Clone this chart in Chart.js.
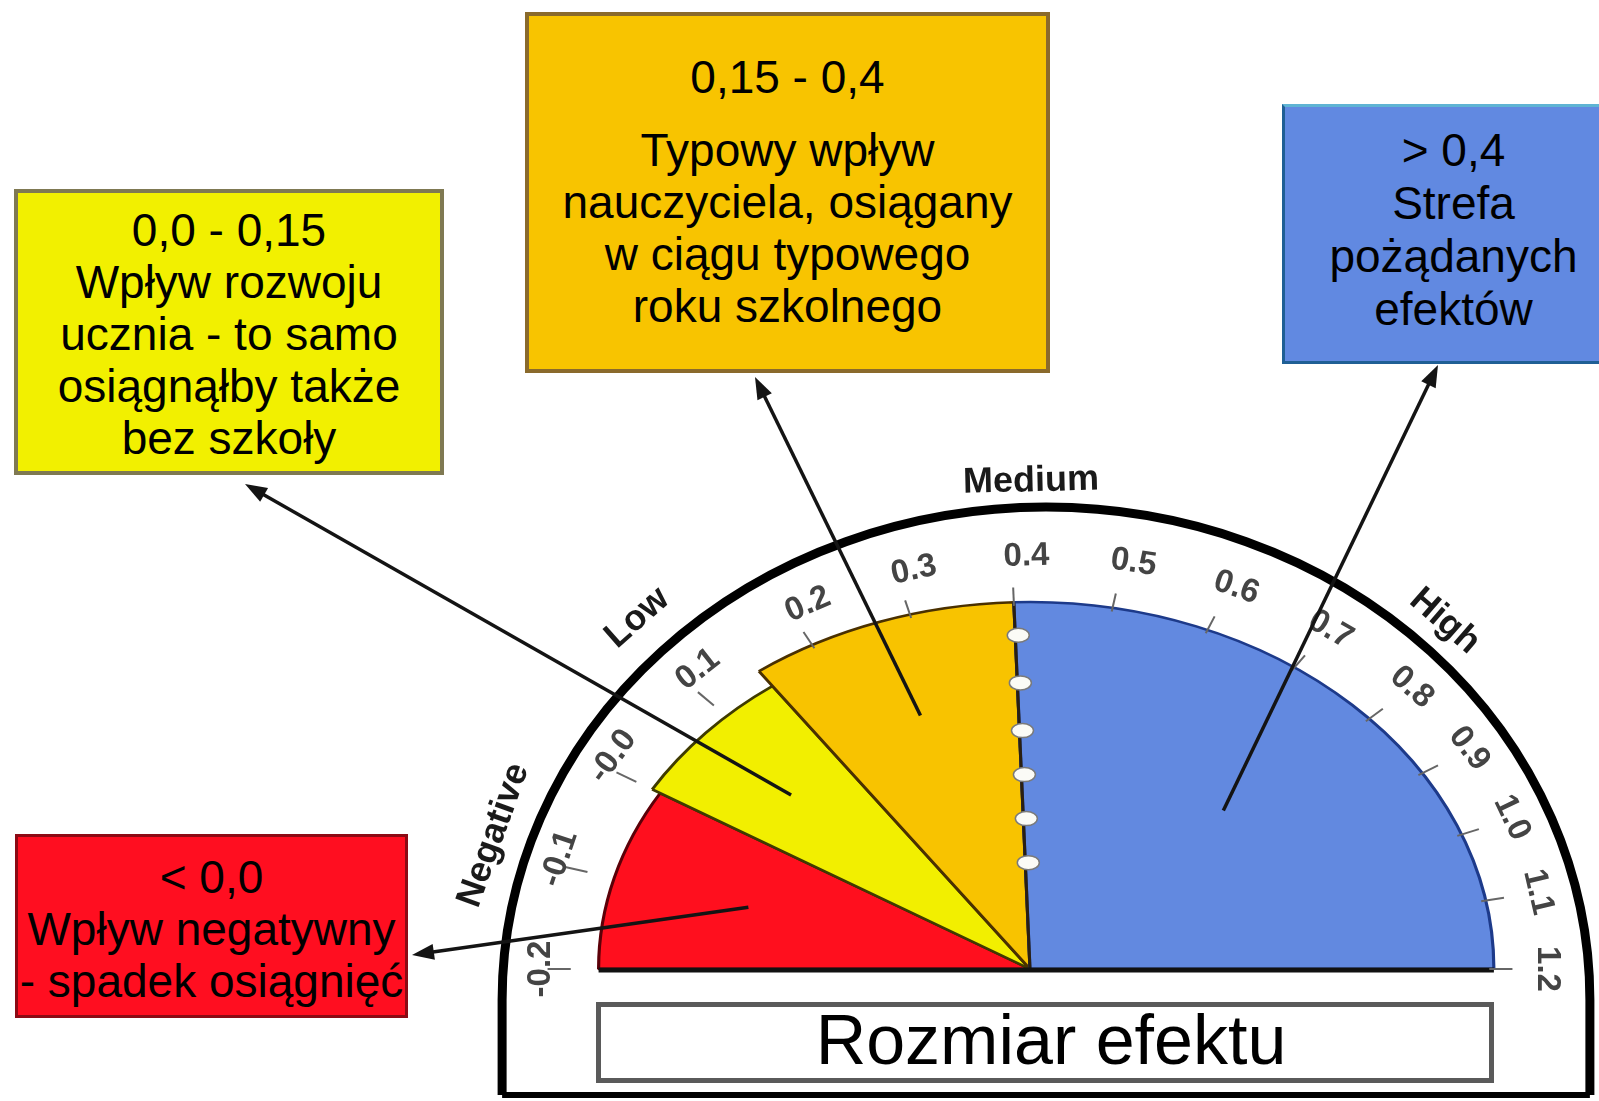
<!DOCTYPE html>
<html lang="pl">
<head>
<meta charset="utf-8">
<title>Rozmiar efektu</title>
<script src="https://cdn.jsdelivr.net/npm/chart.js@4.4.1/dist/chart.umd.min.js"></script>
<style>
  html, body { margin: 0; padding: 0; background: #fff; }
  body { width: 1599px; height: 1101px; overflow: hidden; position: relative;
         font-family: "Liberation Sans", Arial, sans-serif; }
  #gauge { position: absolute; left: 0; top: 0; display: block; }
  .box { position: absolute; box-sizing: border-box; text-align: center; color: #000;
         font-size: 46px; line-height: 52px; white-space: nowrap; z-index: 2; }
  #boxLow  { left: 14px; top: 189px; width: 430px; height: 286px; padding-top: 11px;
             background: #f2f000; border: 4px solid #7f7952; }
  #boxTyp  { left: 525px; top: 12px; width: 525px; height: 361px; padding-top: 35px;
             background: #f8c400; border: 4px solid #8a6a2c; }
  #boxTyp .first { margin-bottom: 21px; }
  #boxHigh { left: 1282px; top: 104px; width: 343px; height: 260px; padding-top: 17px;
             line-height: 53px; background: #6189e1; border: 3px solid #1f5f95;
             border-top-color: #5fb4d4; }
  #boxNeg  { left: 15px; top: 834px; width: 393px; height: 184px; padding-top: 14px;
             background: #ff0e20; border: 3px solid #8c0a14; }
  #axisBox { left: 596px; top: 1002px; width: 898px; height: 81px; padding-left: 12px;
             font-size: 70px; line-height: 66px; background: #fff; border: 5px solid #5a5a5a; }
</style>
</head>
<body>
<canvas id="gauge" width="1599" height="1938"></canvas>

<div class="box" id="boxLow">0,0 - 0,15<br>Wpływ rozwoju<br>ucznia - to samo<br>osiągnąłby także<br>bez szkoły</div>
<div class="box" id="boxTyp"><div class="first">0,15 - 0,4</div>Typowy wpływ<br>nauczyciela, osiągany<br>w ciągu typowego<br>roku szkolnego</div>
<div class="box" id="boxHigh">&gt; 0,4<br>Strefa<br>pożądanych<br>efektów</div>
<div class="box" id="boxNeg">&lt; 0,0<br>Wpływ negatywny<br>- spadek osiągnięć</div>
<div class="box" id="axisBox">Rozmiar efektu</div>

<script>
// zones of the barometer (effect size)
var zoneLabels = ['< 0,0', '0,0 - 0,15', '0,15 - 0,4', '> 0,4'];
var zoneFrom = [-0.2, 0.0, 0.15, 0.4];
var zoneTo = [0.0, 0.15, 0.4, 1.2];
var zoneReach = [93, 95, 100, 100];
var zoneColors = ['#ff0f1e', '#f2ef00', '#f8c300', '#6289e0'];
var zoneBorders = ['#5c0008', '#3f3b00', '#4a3000', '#1d3a8a'];

// dial ticks
var tickValues = [-0.2, -0.1, 0.0, 0.1, 0.2, 0.3, 0.4, 0.5, 0.6, 0.7, 0.8, 0.9, 1.0, 1.1, 1.2];
var tickLabels = ['-0.2', '-0.1', '-0.0', '0.1', '0.2', '0.3', '0.4', '0.5', '0.6', '0.7', '0.8', '0.9', '1.0', '1.1', '1.2'];

// outer band names
var bandLabels = ['Negative', 'Low', 'Medium', 'High'];

// dial scale: value -> angle (deg, 180 = left, 0 = right)
var dialValues = [-0.2, 0.0, 0.2, 0.4, 0.8, 1.2];
var dialAngles = [180, 149, 118, 92, 43, 0];

var stretch = 1.264;
var bandAngles = [161.9, 134.3, 91.5, 46.2];
var bandGap = [37, 41, 26, 32];
var arrowHeads = [[412, 955], [245, 484], [755, 377], [1438, 365]];
var arrowTail = [0.63, 0.70, 0.73, 0.60];

function dialAngle(v) {
    for (var i = 1; i < dialValues.length; i++) {
        if (v <= dialValues[i] || i === dialValues.length - 1) {
            var t = (v - dialValues[i - 1]) / (dialValues[i] - dialValues[i - 1]);
            return dialAngles[i - 1] + t * (dialAngles[i] - dialAngles[i - 1]);
        }
    }
}

function arrow(ctx, x1, y1, x2, y2) {
    var a = Math.atan2(y2 - y1, x2 - x1);
    ctx.strokeStyle = '#141414';
    ctx.fillStyle = '#141414';
    ctx.lineWidth = 3.5;
    ctx.beginPath();
    ctx.moveTo(x1, y1);
    ctx.lineTo(x2 - 14 * Math.cos(a), y2 - 14 * Math.sin(a));
    ctx.stroke();
    ctx.beginPath();
    ctx.moveTo(x2, y2);
    ctx.lineTo(x2 - 22 * Math.cos(a) + 8 * Math.sin(a), y2 - 22 * Math.sin(a) - 8 * Math.cos(a));
    ctx.lineTo(x2 - 22 * Math.cos(a) - 8 * Math.sin(a), y2 - 22 * Math.sin(a) + 8 * Math.cos(a));
    ctx.closePath();
    ctx.fill();
}

function drawDial(chart) {
    var sc = chart.scales.r, ctx = chart.ctx;
    var cx = sc.xCenter, cy = sc.yCenter, R = sc.drawingArea;
    var arcs = chart.getDatasetMeta(0).data;
    function pt(deg, rr) {
        var a = deg * Math.PI / 180;
        return [cx + stretch * rr * Math.cos(a), cy - rr * Math.sin(a)];
    }
    ctx.save();

    // hinge line at 0.4 with its rivets
    var hinge = dialAngle(0.4);
    var p0 = pt(hinge, 0), p1 = pt(hinge, R);
    ctx.strokeStyle = '#2b2010';
    ctx.lineWidth = 3;
    ctx.beginPath(); ctx.moveTo(p0[0], p0[1]); ctx.lineTo(p1[0], p1[1]); ctx.stroke();
    [0.29, 0.41, 0.53, 0.65, 0.78, 0.91].forEach(function (f) {
        var p = pt(hinge, f * R);
        ctx.beginPath();
        ctx.ellipse(p[0] + 3, p[1], 11, 7, 0, 0, Math.PI * 2);
        ctx.fillStyle = '#fbfbf6';
        ctx.fill();
        ctx.lineWidth = 1.5;
        ctx.strokeStyle = '#7a7a7a';
        ctx.stroke();
    });

    // baseline
    ctx.strokeStyle = '#111';
    ctx.lineWidth = 5;
    ctx.beginPath();
    ctx.moveTo(cx - stretch * arcs[0].outerRadius, cy + 1);
    ctx.lineTo(cx + stretch * arcs[3].outerRadius, cy + 1);
    ctx.stroke();

    // tick marks and numbers
    var lcx = cx + 14, lrx = 1.37 * R, lry = 1.125 * R;
    ctx.font = 'bold 33px "Liberation Sans", Arial, sans-serif';
    ctx.textAlign = 'center';
    ctx.textBaseline = 'middle';
    tickValues.forEach(function (v, i) {
        var deg = dialAngle(v), a = deg * Math.PI / 180;
        var t1 = pt(deg, 0.99 * R), t2 = pt(deg, 1.04 * R);
        ctx.strokeStyle = '#666';
        ctx.lineWidth = 2;
        ctx.beginPath(); ctx.moveTo(t1[0], t1[1]); ctx.lineTo(t2[0], t2[1]); ctx.stroke();
        ctx.save();
        ctx.translate(lcx + lrx * Math.cos(a), cy - lry * Math.sin(a));
        ctx.rotate(Math.atan2(lry * Math.cos(a), lrx * Math.sin(a)));
        ctx.fillStyle = '#444';
        ctx.fillText(tickLabels[i], 0, 0);
        ctx.restore();
    });

    // outer frame: arch on straight sides, closed at the bottom
    var ox = cx + 16, oy = cy + 31, orx = 1.482 * R, ory = 1.343 * R, bottom = cy + 126;
    ctx.strokeStyle = '#000';
    ctx.lineWidth = 9;
    ctx.beginPath();
    ctx.moveTo(ox - orx, bottom);
    ctx.lineTo(ox - orx, oy);
    ctx.ellipse(ox, oy, orx, ory, 0, Math.PI, Math.PI * 2);
    ctx.lineTo(ox + orx, bottom);
    ctx.stroke();
    ctx.lineWidth = 6;
    ctx.beginPath();
    ctx.moveTo(ox - orx, bottom);
    ctx.lineTo(ox + orx, bottom);
    ctx.stroke();

    // band names outside the frame
    ctx.font = 'bold 36px "Liberation Sans", Arial, sans-serif';
    ctx.fillStyle = '#1a1a1a';
    bandLabels.forEach(function (txt, i) {
        var a = bandAngles[i] * Math.PI / 180;
        ctx.save();
        ctx.translate(ox + (orx + bandGap[i]) * Math.cos(a), oy - (ory + bandGap[i]) * Math.sin(a));
        ctx.rotate(Math.atan2(ory * Math.cos(a), orx * Math.sin(a)));
        ctx.fillText(txt, 0, 0);
        ctx.restore();
    });

    // arrows from each zone to its description
    arcs.forEach(function (el, i) {
        var mid = (el.startAngle + el.endAngle) / 2;
        var rr = arrowTail[i] * R;
        arrow(ctx, cx + stretch * rr * Math.cos(mid), cy + rr * Math.sin(mid),
              arrowHeads[i][0], arrowHeads[i][1]);
    });
    ctx.restore();
}

var dialPlugin = {
    id: 'dial',
    beforeDatasetsDraw: function (chart) {
        var sc = chart.scales.r, ctx = chart.ctx;
        ctx.save();
        ctx.translate(sc.xCenter, sc.yCenter);
        ctx.scale(stretch, 1);
        ctx.translate(-sc.xCenter, -sc.yCenter);
    },
    afterDatasetsDraw: function (chart) {
        chart.ctx.restore();
        drawDial(chart);
    }
};

var ctx = document.getElementById('gauge').getContext('2d');
var gauge = new Chart(ctx, {
    type: 'polarArea',
    data: {
        labels: zoneLabels,
        datasets: [{
            data: zoneReach,
            backgroundColor: zoneColors,
            borderColor: zoneBorders,
            borderWidth: 2.5,
            clip: false,
            angle: function (c) {
                return dialAngle(zoneFrom[c.dataIndex]) - dialAngle(zoneTo[c.dataIndex]);
            }
        }]
    },
    options: {
        responsive: false,
        animation: false,
        layout: { padding: { left: 663, right: 202, top: 0, bottom: 0 } },
        plugins: { legend: { display: false }, tooltip: { enabled: false } },
        scales: {
            r: { display: false, min: 0, max: 100, startAngle: -90 }
        }
    },
    plugins: [dialPlugin]
});
</script>
</body>
</html>
